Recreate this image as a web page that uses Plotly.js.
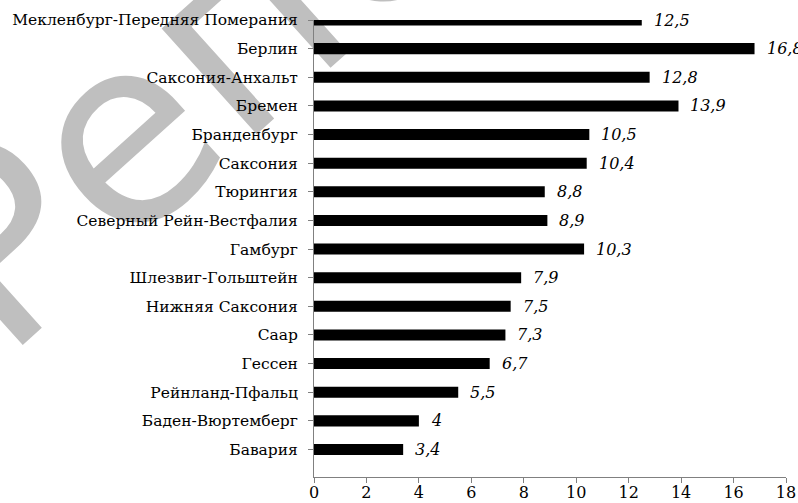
<!DOCTYPE html>
<html>
<head>
<meta charset="utf-8">
<script src="https://cdn.plot.ly/plotly-3.0.1.min.js"></script>
<style>
  html, body { margin: 0; padding: 0; background: #fff; overflow: hidden; }
  #chart { width: 798px; height: 503px; }
</style>
</head>
<body>
<div id="chart"></div>
<script>
// Data (top to bottom as in the reference)
const categories = [
  "Мекленбург-Передняя Померания",
  "Берлин",
  "Саксония-Анхальт",
  "Бремен",
  "Бранденбург",
  "Саксония",
  "Тюрингия",
  "Северный Рейн-Вестфалия",
  "Гамбург",
  "Шлезвиг-Гольштейн",
  "Нижняя Саксония",
  "Саар",
  "Гессен",
  "Рейнланд-Пфальц",
  "Баден-Вюртемберг",
  "Бавария"
];
const values = [12.5, 16.8, 12.8, 13.9, 10.5, 10.4, 8.8, 8.9, 10.3, 7.9, 7.5, 7.3, 6.7, 5.5, 4, 3.4];
const valueLabels = ["12,5", "16,8", "12,8", "13,9", "10,5", "10,4", "8,8", "8,9", "10,3", "7,9", "7,5", "7,3", "6,7", "5,5", "4", "3,4"];
const xTicks = [0, 2, 4, 6, 8, 10, 12, 14, 16, 18];
const watermarkText = "Репетитор";

const serif = "DejaVu Serif";
const sans = "DejaVu Sans";

const trace = {
  type: "bar",
  orientation: "h",
  x: values,
  y: categories,
  marker: { color: "#000000", line: { width: 0 } },
  hoverinfo: "skip"
};

const annotations = values.map((v, i) => ({
  x: v,
  y: categories[i],
  xref: "x",
  yref: "y",
  text: valueLabels[i],
  showarrow: false,
  xanchor: "left",
  yanchor: "middle",
  xshift: 10,
  font: { family: serif, size: 16, color: "#000000", style: "italic" }
}));

const layout = {
  width: 798,
  height: 503,
  margin: { l: 314.3, r: 12.3, t: 20, b: 26.3, pad: 0 },
  paper_bgcolor: "#ffffff",
  plot_bgcolor: "rgba(0,0,0,0)",
  font: { family: serif, color: "#000000" },
  showlegend: false,
  bargap: 0.615,
  xaxis: {
    range: [0, 18],
    tickvals: xTicks,
    ticktext: xTicks.map(String),
    ticks: "outside",
    ticklen: 5,
    tickwidth: 1,
    tickcolor: "#808080",
    showline: true,
    linecolor: "#808080",
    linewidth: 1,
    showgrid: false,
    zeroline: false,
    ticklabelstandoff: -4,
    tickfont: { family: serif, size: 16, color: "#000000" },
    fixedrange: true
  },
  yaxis: {
    type: "category",
    categoryorder: "array",
    categoryarray: categories,
    range: [15.96, 0],
    ticks: "outside",
    ticklen: 5,
    tickwidth: 1,
    tickcolor: "#808080",
    showline: true,
    linecolor: "#808080",
    linewidth: 1,
    showgrid: false,
    zeroline: false,
    ticklabelstandoff: 7,
    tickfont: { family: serif, size: 15.5, color: "#000000" },
    fixedrange: true
  },
  annotations: annotations,
  shapes: [{
    type: "rect",
    xref: "paper", yref: "paper",
    x0: 0.322, x1: 0.326, y0: 1.483, y1: 1.487,
    layer: "below",
    line: { width: 0 },
    fillcolor: "rgba(0,0,0,0)",
    label: {
      text: watermarkText,
      textangle: -42,
      textposition: "middle center",
      font: { family: sans, size: 260, color: "#bfbfbf" }
    }
  }]
};

Plotly.newPlot("chart", [trace], layout, { displayModeBar: false, staticPlot: true });
</script>
</body>
</html>
